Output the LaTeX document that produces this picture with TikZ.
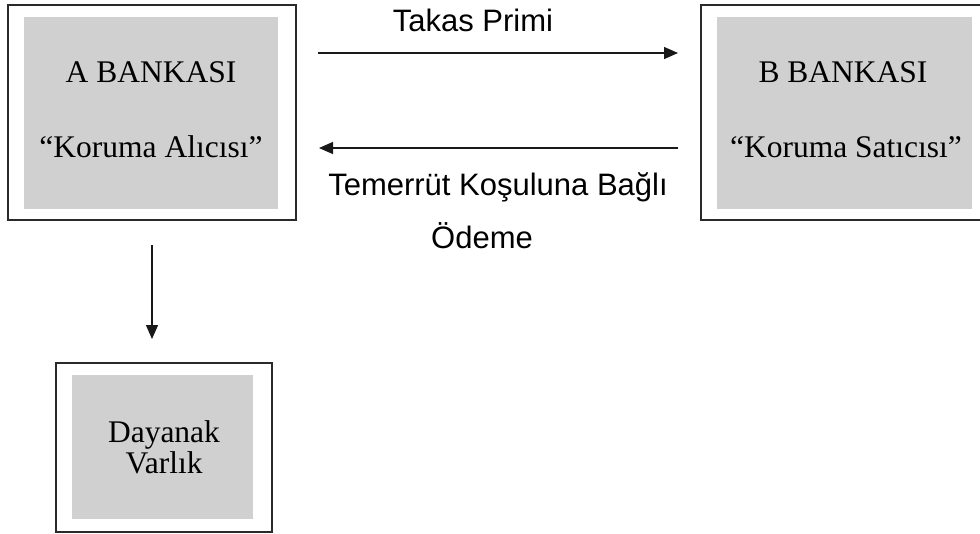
\documentclass[tikz,border=0pt]{standalone}
\usepackage{fontspec}
\setmainfont{Liberation Serif}
\newfontfamily\arialfont{Liberation Sans}
\usetikzlibrary{arrows.meta}
\definecolor{boxgray}{HTML}{D0D0D0}
\definecolor{edgegray}{HTML}{2A2A2A}
\tikzset{
  outerbox/.style={draw=edgegray, line width=1.8pt, fill=white, inner sep=0pt},
  innerbox/.style={fill=boxgray, draw=none, inner sep=0pt},
  seriftext/.style={font=\fontsize{31.5}{37}\selectfont, inner sep=0pt, anchor=base},
  sanstext/.style={font=\arialfont\fontsize{31}{37}\selectfont, inner sep=0pt, anchor=base},
  arr/.style={draw=black!90, line width=1.4pt, -{Triangle[length=14pt,width=12pt]}}
}
\begin{document}
\begin{tikzpicture}[x=1pt,y=-1pt]
\useasboundingbox (0,0) rectangle (980,533);
% A box
\node[outerbox, minimum width=288pt, minimum height=215pt] (A) at (152,112.5) {};
\node[innerbox, minimum width=254pt, minimum height=192pt] (Ai) at (151,113) {};
\node[seriftext] (Aa) at (151,82) {A BANKASI};
\node[seriftext] (Ab) at (151,157) {``Koruma Alıcısı''};
% B box
\node[outerbox, minimum width=280pt, minimum height=215pt] (B) at (841,112.5) {};
\node[innerbox, minimum width=255pt, minimum height=192pt] (Bi) at (844.5,113) {};
\node[seriftext] (Ba) at (843,82) {B BANKASI};
\node[seriftext] (Bb) at (846,157) {``Koruma Satıcısı''};
% D box
\node[outerbox, minimum width=216pt, minimum height=169pt] (D) at (164,447.5) {};
\node[innerbox, minimum width=181pt, minimum height=144pt] (Di) at (162.5,447) {};
\node[seriftext] (Da) at (164,442) {Dayanak};
\node[seriftext] (Db) at (164,473) {Varlık};
% arrows
\coordinate (t1) at (318,53);
\coordinate (t2) at (678,53);
\coordinate (b1) at (678,148);
\coordinate (b2) at (319,148);
\coordinate (v1) at (152,245);
\coordinate (v2) at (152,339);
\draw[arr] (t1) -- (t2);
\draw[arr] (b1) -- (b2);
\draw[arr] (v1) -- (v2);
% labels
\node[sanstext] (L1) at (473,31) {Takas Primi};
\node[sanstext] (L2) at (498,195) {Temerrüt Koşuluna Bağlı};
\node[sanstext] (L3) at (482,248) {Ödeme};
\end{tikzpicture}
\end{document}
